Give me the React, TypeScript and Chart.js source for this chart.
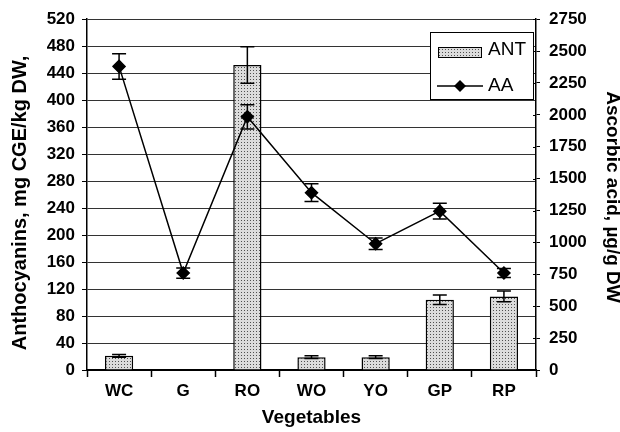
import React, { useEffect, useRef } from "react";
import { Chart, registerables } from "chart.js";

Chart.register(...registerables);

const categories = ["WC", "G", "RO", "WO", "YO", "GP", "RP"];
const antValues = [21, 0, 452, 19, 19, 104, 109];
const antErrors = [2, 0, 27, 2, 2, 7, 8];
const aaValues = [2380, 760, 1985, 1390, 990, 1245, 760];
const aaErrors = [100, 40, 95, 70, 45, 62, 35];
const leftAxis = { min: 0, max: 520, step: 40 };
const rightAxis = { min: 0, max: 2750, step: 250 };
const xTitle = "Vegetables";
const leftTitle = "Anthocyanins, mg CGE/kg DW,";
const rightTitle = "Ascorbic acid, µg/g DW";
const seriesLabels = ["ANT", "AA"];

const FONT = '"Liberation Sans", Arial, Helvetica, sans-serif';

function makePattern(): CanvasPattern | string {
  const c = document.createElement("canvas");
  c.width = 3;
  c.height = 3;
  const g = c.getContext("2d");
  if (!g) return "#ccc";
  g.fillStyle = "#dcdcdc";
  g.fillRect(0, 0, 3, 3);
  g.fillStyle = "#505050";
  g.fillRect(1, 1, 1, 1);
  const p = g.createPattern(c, "repeat");
  return p || "#ccc";
}

export default function App() {
  const ref = useRef<HTMLCanvasElement | null>(null);

  useEffect(() => {
    document.body.style.margin = "0";
    const canvas = ref.current;
    if (!canvas) return;
    const pattern = makePattern();
    const errorSets = [antErrors, aaErrors];

    const errorBars = {
      id: "errorBars",
      afterDatasetsDraw(chart: any) {
        const ctx = chart.ctx;
        chart.data.datasets.forEach((ds: any, i: number) => {
          const meta = chart.getDatasetMeta(i);
          const ys = chart.scales[meta.yAxisID];
          const errs = errorSets[i];
          meta.data.forEach((el: any, j: number) => {
            const e = errs[j];
            if (!e) return;
            const v = ds.data[j];
            const x = el.x;
            const hi = ys.getPixelForValue(v + e);
            const lo = ys.getPixelForValue(v - e);
            ctx.save();
            ctx.strokeStyle = "#000";
            ctx.lineWidth = 1.5;
            ctx.beginPath();
            ctx.moveTo(x, hi);
            ctx.lineTo(x, lo);
            ctx.moveTo(x - 7, hi);
            ctx.lineTo(x + 7, hi);
            ctx.moveTo(x - 7, lo);
            ctx.lineTo(x + 7, lo);
            ctx.stroke();
            ctx.restore();
          });
        });
      },
    };

    const decorations = {
      id: "decorations",
      afterDraw(chart: any) {
        const ctx = chart.ctx;
        const area = chart.chartArea;
        const y1 = chart.scales.y1;
        ctx.save();
        ctx.strokeStyle = "#000";
        ctx.lineWidth = 1;
        y1.ticks.forEach((t: any) => {
          const y = Math.round(y1.getPixelForValue(t.value)) + 0.5;
          ctx.beginPath();
          ctx.moveTo(area.right - 3, y);
          ctx.lineTo(area.right, y);
          ctx.stroke();
        });
        ctx.restore();

        ctx.save();
        ctx.fillStyle = "#000";
        ctx.textAlign = "center";
        ctx.textBaseline = "middle";
        ctx.font = `bold 19px ${FONT}`;
        ctx.fillText(xTitle, (area.left + area.right) / 2, 418);
        ctx.save();
        ctx.font = `bold 20px ${FONT}`;
        ctx.translate(20, 203);
        ctx.rotate(-Math.PI / 2);
        ctx.fillText(leftTitle, 0, 0);
        ctx.restore();
        ctx.save();
        ctx.font = `bold 19px ${FONT}`;
        ctx.translate(612, 197);
        ctx.rotate(Math.PI / 2);
        ctx.fillText(rightTitle, 0, 0);
        ctx.restore();
        ctx.restore();

        const lx = 430.5, ly = 32.5, lw = 103, lh = 67;
        ctx.save();
        ctx.fillStyle = "#fff";
        ctx.fillRect(lx, ly, lw, lh);
        ctx.strokeStyle = "#000";
        ctx.lineWidth = 1;
        ctx.strokeRect(lx, ly, lw, lh);
        ctx.fillStyle = pattern as any;
        ctx.fillRect(438, 47, 43, 10);
        ctx.strokeRect(438.5, 47.5, 43, 10);
        ctx.lineWidth = 1.5;
        ctx.beginPath();
        ctx.moveTo(437, 86);
        ctx.lineTo(483, 86);
        ctx.stroke();
        ctx.fillStyle = "#000";
        ctx.beginPath();
        ctx.moveTo(460, 80);
        ctx.lineTo(466, 86);
        ctx.lineTo(460, 92);
        ctx.lineTo(454, 86);
        ctx.closePath();
        ctx.fill();
        ctx.font = `19px ${FONT}`;
        ctx.textAlign = "left";
        ctx.textBaseline = "middle";
        ctx.fillText(seriesLabels[0], 488, 50);
        ctx.fillText(seriesLabels[1], 488, 86);
        ctx.restore();
      },
    };

    const tickFont = { family: FONT, size: 17, weight: "bold" as const };

    const chart = new Chart(canvas, {
      type: "bar",
      data: {
        labels: categories,
        datasets: [
          {
            type: "bar",
            label: seriesLabels[0],
            data: antValues,
            yAxisID: "y",
            backgroundColor: pattern as any,
            borderColor: "#000",
            borderWidth: 1.5,
            barPercentage: 0.44,
            categoryPercentage: 1,
            order: 2,
          },
          {
            type: "line",
            label: seriesLabels[1],
            data: aaValues,
            yAxisID: "y1",
            borderColor: "#000",
            borderWidth: 1.5,
            backgroundColor: "#000",
            pointStyle: "rectRot",
            pointRadius: 6,
            pointBackgroundColor: "#000",
            pointBorderColor: "#000",
            tension: 0,
            order: 1,
          } as any,
        ],
      },
      options: {
        responsive: false,
        animation: false,
        devicePixelRatio: 1,
        layout: { padding: { top: 19, left: 0, right: 0, bottom: 0 } },
        plugins: {
          legend: { display: false },
          tooltip: { enabled: false },
        },
        scales: {
          x: {
            grid: {
              display: true,
              offset: true,
              drawOnChartArea: false,
              drawTicks: true,
              tickLength: 7,
              tickColor: "#000",
              tickWidth: 1.5,
            },
            border: { display: true, color: "#000", width: 2 },
            ticks: { color: "#000", font: tickFont, padding: 4 },
            afterFit: (s: any) => {
              s.height = 62;
            },
          },
          y: {
            position: "left",
            min: leftAxis.min,
            max: leftAxis.max,
            grid: {
              color: "#333",
              lineWidth: 1,
              drawTicks: true,
              tickLength: 5,
              tickColor: "#000",
            },
            border: { display: true, color: "#000", width: 1.5 },
            ticks: {
              stepSize: leftAxis.step,
              color: "#000",
              font: tickFont,
              padding: 7,
              callback: (v: any) => String(v),
            },
            afterFit: (s: any) => {
              s.width = 87;
            },
          },
          y1: {
            position: "right",
            min: rightAxis.min,
            max: rightAxis.max,
            grid: {
              display: true,
              drawOnChartArea: false,
              drawTicks: true,
              tickLength: 4,
              tickColor: "#000",
            },
            border: { display: true, color: "#000", width: 1.5 },
            ticks: {
              stepSize: rightAxis.step,
              color: "#000",
              font: tickFont,
              padding: 9,
              callback: (v: any) => String(v),
            },
            afterFit: (s: any) => {
              s.width = 84;
            },
          },
        },
      },
      plugins: [errorBars, decorations],
    });

    return () => chart.destroy();
  }, []);

  return (
    <div style={{ width: 620, height: 432 }}>
      <canvas ref={ref} width={620} height={432} />
    </div>
  );
}
